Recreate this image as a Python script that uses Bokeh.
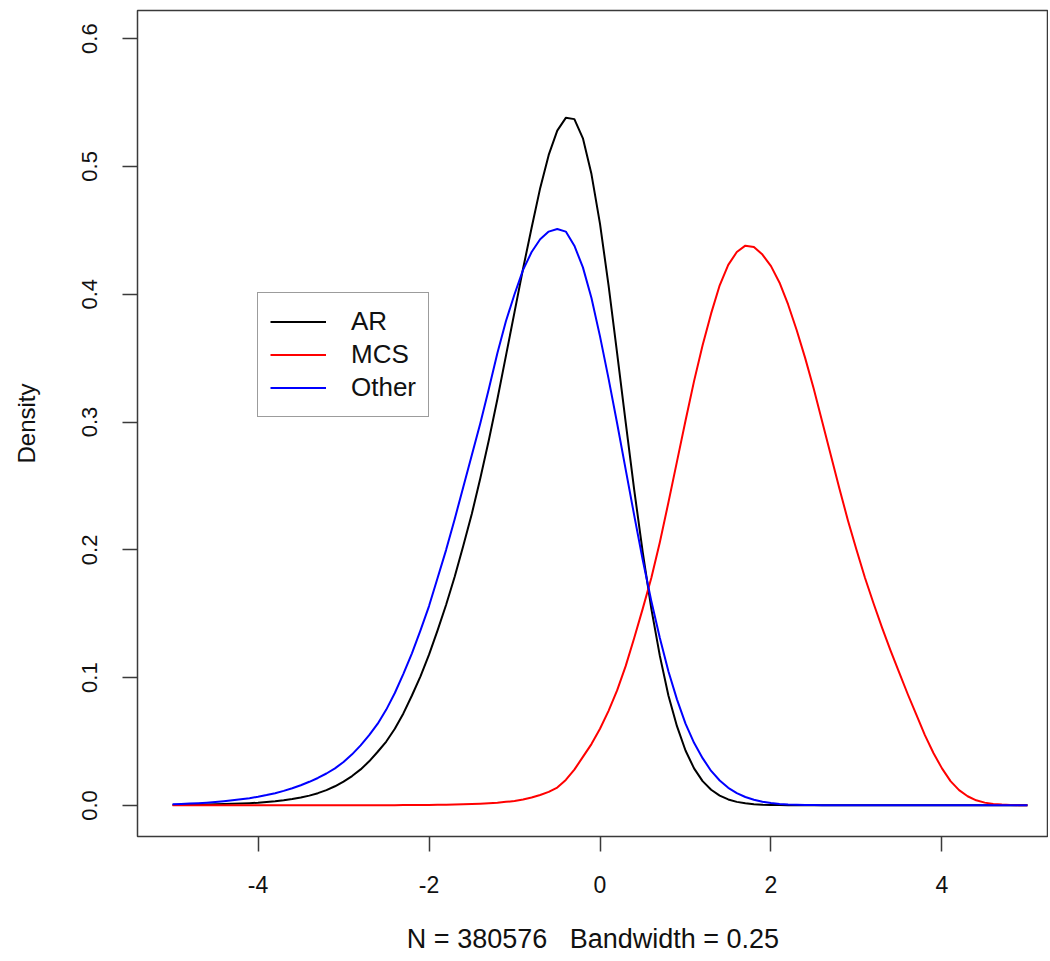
from bokeh.plotting import figure
from bokeh.models import Range1d, FixedTicker, Legend, LegendItem
from bokeh.embed import file_html
from bokeh.resources import INLINE

# ---- data ----
x_grid = [-5.0, -4.9, -4.8, -4.7, -4.6, -4.5, -4.4, -4.3, -4.2, -4.1,
          -4.0, -3.9, -3.8, -3.7, -3.6, -3.5, -3.4, -3.3, -3.2, -3.1,
          -3.0, -2.9, -2.8, -2.7, -2.6, -2.5, -2.4, -2.3, -2.2, -2.1,
          -2.0, -1.9, -1.8, -1.7, -1.6, -1.5, -1.4, -1.3, -1.2, -1.1,
          -1.0, -0.9, -0.8, -0.7, -0.6, -0.5, -0.4, -0.3, -0.2, -0.1,
          0.0, 0.1, 0.2, 0.3, 0.4, 0.5, 0.6, 0.7, 0.8, 0.9,
          1.0, 1.1, 1.2, 1.3, 1.4, 1.5, 1.6, 1.7, 1.8, 1.9,
          2.0, 2.1, 2.2, 2.3, 2.4, 2.5, 2.6, 2.7, 2.8, 2.9,
          3.0, 3.1, 3.2, 3.3, 3.4, 3.5, 3.6, 3.7, 3.8, 3.9,
          4.0, 4.1, 4.2, 4.3, 4.4, 4.5, 4.6, 4.7, 4.8, 4.9, 5.0]

ar_density = [0.0003, 0.0004, 0.0005, 0.0006, 0.0008, 0.0009, 0.0011, 0.0013, 0.0015, 0.0018,
              0.0021, 0.0026, 0.0032, 0.0040, 0.0050, 0.0062, 0.0077, 0.0096, 0.0120, 0.0150,
              0.0187, 0.0230, 0.0282, 0.0345, 0.042, 0.050, 0.060, 0.072, 0.086, 0.101,
              0.118, 0.137, 0.157, 0.179, 0.203, 0.228, 0.256, 0.286, 0.318, 0.352,
              0.386, 0.420, 0.452, 0.483, 0.509, 0.528, 0.538, 0.537, 0.522, 0.494,
              0.455, 0.407, 0.354, 0.300, 0.247, 0.198, 0.154, 0.117, 0.086, 0.062,
              0.043, 0.029, 0.019, 0.0123, 0.0077, 0.0047, 0.0028, 0.0017, 0.0010, 0.0006,
              0.0004, 0.0003, 0.0002, 0.0002, 0.0001, 0.0001, 0.0001, 0.0001, 0.0001, 0.0001,
              0.0001, 0.0001, 0.0001, 0.0001, 0.0001, 0.0001, 0.0001, 0.0001, 0.0001, 0.0001,
              0.0001, 0.0001, 0.0001, 0.0001, 0.0001, 0.0001, 0.0001, 0.0001, 0.0001, 0.0001, 0.0001]

mcs_density = [0.0001, 0.0001, 0.0001, 0.0001, 0.0001, 0.0001, 0.0001, 0.0001, 0.0001, 0.0001,
               0.0001, 0.0001, 0.0001, 0.0001, 0.0001, 0.0001, 0.0001, 0.0001, 0.0001, 0.0001,
               0.0001, 0.0001, 0.0001, 0.0001, 0.0002, 0.0002, 0.0002, 0.0003, 0.0003, 0.0004,
               0.0004, 0.0005, 0.0006, 0.0007, 0.0009, 0.0011, 0.0014, 0.0018, 0.0022, 0.0028,
               0.0035, 0.0046, 0.0062, 0.0082, 0.0106, 0.0140, 0.020, 0.028, 0.038, 0.048,
               0.060, 0.074, 0.090, 0.109, 0.131, 0.154, 0.178, 0.206, 0.237, 0.269,
               0.301, 0.332, 0.360, 0.385, 0.407, 0.423, 0.433, 0.438, 0.437, 0.431,
               0.422, 0.409, 0.392, 0.372, 0.350, 0.326, 0.300, 0.274, 0.248, 0.223,
               0.200, 0.178, 0.158, 0.139, 0.121, 0.104, 0.087, 0.071, 0.055, 0.041,
               0.029, 0.019, 0.012, 0.0072, 0.0040, 0.0022, 0.0012, 0.0007, 0.0004, 0.0002, 0.0001]

other_density = [0.0010, 0.0012, 0.0015, 0.0018, 0.0022, 0.0027, 0.0033, 0.0040, 0.0048, 0.0057,
                 0.0068, 0.0081, 0.0096, 0.0114, 0.0135, 0.0158, 0.0185, 0.0215, 0.0250, 0.0290,
                 0.0340, 0.0400, 0.0470, 0.0550, 0.064, 0.075, 0.088, 0.103, 0.119, 0.137,
                 0.156, 0.178, 0.200, 0.224, 0.249, 0.274, 0.299, 0.326, 0.354, 0.379,
                 0.400, 0.419, 0.433, 0.443, 0.449, 0.451, 0.449, 0.438, 0.421, 0.397,
                 0.367, 0.334, 0.299, 0.263, 0.227, 0.192, 0.160, 0.131, 0.105, 0.083,
                 0.064, 0.049, 0.037, 0.027, 0.0195, 0.0138, 0.0097, 0.0066, 0.0044, 0.0029,
                 0.0019, 0.0012, 0.0008, 0.0006, 0.0004, 0.0003, 0.0002, 0.0002, 0.0002, 0.0002,
                 0.0002, 0.0002, 0.0002, 0.0002, 0.0002, 0.0002, 0.0002, 0.0002, 0.0002, 0.0002,
                 0.0002, 0.0002, 0.0002, 0.0002, 0.0002, 0.0002, 0.0002, 0.0002, 0.0002, 0.0002, 0.0002]

series_names = ["AR", "MCS", "Other"]
series_colors = ["#000000", "#FF0000", "#0000FF"]

x_ticks = [-4, -2, 0, 2, 4]
x_tick_labels = ["-4", "-2", "0", "2", "4"]
y_ticks = [0.0, 0.1, 0.2, 0.3, 0.4, 0.5, 0.6]
y_tick_labels = ["0.0", "0.1", "0.2", "0.3", "0.4", "0.5", "0.6"]

x_label = "N = 380576\u00a0\u00a0\u00a0Bandwidth = 0.25"
y_label = "Density"

FONT = "Liberation Sans"

p = figure(width=1048, height=961,
           x_range=Range1d(-5.41, 5.246), y_range=Range1d(-0.0243, 0.622),
           output_backend="svg", toolbar_location=None,
           min_border_left=137, min_border_right=0, min_border_top=10, min_border_bottom=125)
p.grid.visible = False
p.background_fill_color = "white"
p.border_fill_color = "white"
p.outline_line_color = "#3a3a3a"
p.outline_line_width = 1.5

renderers = []
for ys, c in zip([ar_density, mcs_density, other_density], series_colors):
    r = p.line(x_grid, ys, line_color=c, line_width=2, line_join="round")
    renderers.append(r)

# axes
for ax in (p.xaxis[0], p.yaxis[0]):
    ax.axis_line_color = None
    ax.major_tick_line_color = "#3a3a3a"
    ax.major_tick_line_width = 1.5
    ax.major_tick_out = 15
    ax.major_tick_in = 0
    ax.minor_tick_line_color = None
    ax.major_label_text_font = FONT
    ax.major_label_text_color = "#111111"
    ax.axis_label_text_font = FONT
    ax.axis_label_text_font_style = "normal"
    ax.axis_label_text_color = "#111111"

p.xaxis.ticker = FixedTicker(ticks=x_ticks)
p.xaxis.major_label_overrides = {t: l for t, l in zip(x_ticks, x_tick_labels)}
p.xaxis.major_label_text_font_size = "23px"
p.xaxis.major_label_standoff = 24
p.xaxis.axis_label = x_label
p.xaxis.axis_label_text_font_size = "27px"
p.xaxis.axis_label_standoff = 28

p.yaxis.ticker = FixedTicker(ticks=y_ticks)
p.yaxis.major_label_overrides = {t: l for t, l in zip(y_ticks, y_tick_labels)}
p.yaxis.major_label_text_font_size = "22px"
p.yaxis.major_label_orientation = "vertical"
p.yaxis.major_label_standoff = 25
p.yaxis.axis_label = y_label
p.yaxis.axis_label_text_font_size = "24px"
p.yaxis.axis_label_standoff = 40

legend = Legend(items=[LegendItem(label=n, renderers=[r]) for n, r in zip(series_names, renderers)],
                location=(120, 419), orientation="vertical")
legend.border_line_color = "#3a3a3a"
legend.border_line_width = 1.5
legend.background_fill_color = "white"
legend.background_fill_alpha = 1.0
legend.label_text_font = FONT
legend.label_text_font_size = "26px"
legend.label_text_color = "#111111"
legend.padding = 12
legend.spacing = 0
legend.margin = 0
legend.label_height = 33
legend.glyph_height = 33
legend.glyph_width = 56
legend.label_standoff = 25
p.add_layout(legend, "center")

open("out.html", "w").write(file_html(p, INLINE))
